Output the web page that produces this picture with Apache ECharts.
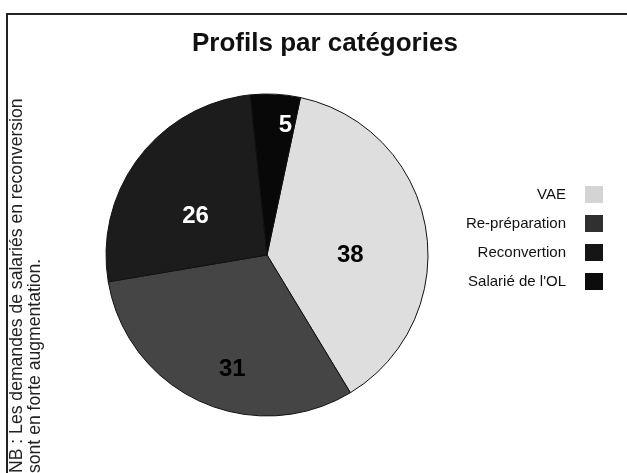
<!DOCTYPE html>
<html>
<head>
<meta charset="utf-8">
<script src="https://cdn.jsdelivr.net/npm/echarts@6/dist/echarts.min.js"></script>
<style>
html,body{margin:0;padding:0;background:#fff;}
#chart{width:627px;height:473px;}
</style>
</head>
<body>
<div id="chart"></div>
<script>
const titleText = "Profils par catégories";
const categories = ["VAE", "Re-préparation", "Reconvertion", "Salarié de l'OL"];
const values = [38, 31, 26, 5];
const noteLines = ["NB : Les demandes de salariés en reconversion", "sont en forte augmentation."];

const sliceColors = ["#dedede", "#454545", "#1c1c1c", "#080808"];
const legendColors = ["#d4d4d4", "#303030", "#151515", "#0c0c0c"];
const labelColors = ["#000", "#000", "#fff", "#fff"];
const labelShift = [[1, 14], [0, 38], [-5, 12], [14, -46]];

const chart = echarts.init(document.getElementById('chart'));
const FONT = "'Liberation Sans', Arial, sans-serif";

chart.setOption({
  animation: false,
  backgroundColor: '#fff',
  title: {
    text: titleText,
    left: 187,
    top: 26,
    textStyle: { fontFamily: FONT, fontSize: 26, fontWeight: 'bold', color: '#111' }
  },
  legend: {
    orient: 'vertical',
    right: 19,
    top: 181,
    align: 'right',
    itemWidth: 18,
    itemHeight: 17,
    itemGap: 12,
    icon: 'rect',
    data: categories.map((n, i) => ({ name: n, itemStyle: { color: legendColors[i], borderWidth: 0 } })),
    itemStyle: { borderWidth: 0 },
    textStyle: { fontFamily: FONT, fontSize: 15, color: '#111', padding: [0, 14, 0, 0] }
  },
  graphic: [
    { type: 'line', shape: { x1: 7, y1: 14, x2: 627, y2: 14 }, style: { stroke: '#222', lineWidth: 2 } },
    { type: 'line', shape: { x1: 7, y1: 13, x2: 7, y2: 473 }, style: { stroke: '#222', lineWidth: 2 } },
    { type: 'text', x: 17, y: 473, rotation: Math.PI / 2,
      style: { text: noteLines[0], font: "17.6px " + FONT, fill: '#222', textAlign: 'left', textVerticalAlign: 'middle' } },
    { type: 'text', x: 35, y: 473, rotation: Math.PI / 2,
      style: { text: noteLines[1], font: "17.6px " + FONT, fill: '#222', textAlign: 'left', textVerticalAlign: 'middle' } }
  ],
  series: [{
    type: 'pie',
    center: [267, 255],
    radius: 161,
    startAngle: 78,
    clockwise: true,
    avoidLabelOverlap: false,
    label: {
      show: true,
      position: 'inside',
      formatter: '{c}',
      fontFamily: FONT,
      fontSize: 24,
      fontWeight: 'bold'
    },
    labelLine: { show: false },
    labelLayout: function (p) {
      return { dx: labelShift[p.dataIndex][0], dy: labelShift[p.dataIndex][1] };
    },
    itemStyle: { borderColor: '#111', borderWidth: 1 },
    data: categories.map((name, i) => ({
      name: name,
      value: values[i],
      itemStyle: { color: sliceColors[i] },
      label: { color: labelColors[i] }
    }))
  }]
});
</script>
</body>
</html>
